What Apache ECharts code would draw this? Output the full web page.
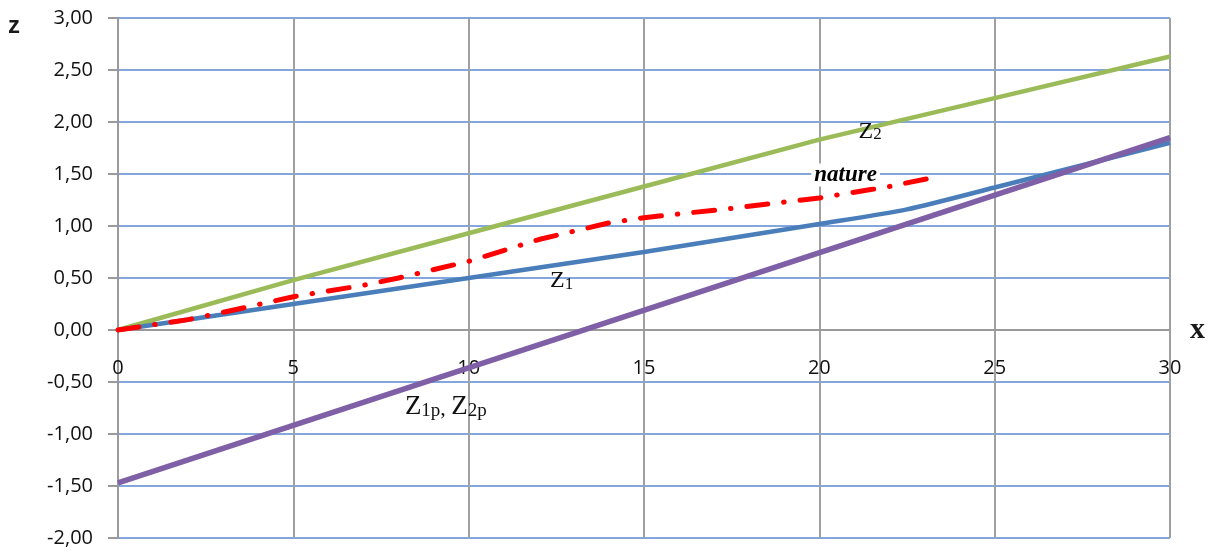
<!DOCTYPE html>
<html>
<head>
<meta charset="utf-8">
<script src="https://cdn.jsdelivr.net/npm/echarts@6/dist/echarts.min.js"></script>
<style>html,body{margin:0;padding:0;background:#fff}#c{width:1208px;height:552px}</style>
</head>
<body>
<div id="c"></div>
<script>
// ---- data ----
const z2X = [0, 5, 10, 15, 20, 25, 30];
const z2Y = [0, 0.48, 0.93, 1.38, 1.83, 2.23, 2.63];
const z1X = [0, 5, 10, 15, 20, 22.5, 25, 30];
const z1Y = [0, 0.25, 0.5, 0.75, 1.02, 1.16, 1.37, 1.80];
const natX = [0, 2, 3, 5, 7, 8, 10, 12, 14, 15, 17.5, 20, 22, 23.3];
const natY = [0, 0.10, 0.17, 0.32, 0.43, 0.50, 0.66, 0.87, 1.03, 1.08, 1.17, 1.27, 1.38, 1.47];
const zpX = [0, 30];
const zpY = [-1.47, 1.85];
const xTicks = [0, 5, 10, 15, 20, 25, 30];
const yTicks = [-2, -1.5, -1, -0.5, 0, 0.5, 1, 1.5, 2, 2.5, 3];
// annotation anchors (data coords)
const labZ2 = [21.45, 1.91];
const labZ1 = [12.65, 0.47];
const labZp = [9.35, -0.74];
const labNat = [20.75, 1.49];

const pairs = (xs, ys) => xs.map((x, i) => [x, ys[i]]);
const serif = 'Liberation Serif';
const sans = 'Open Sans';

const GRID_TOP = 18, GRID_BOTTOM = 14, H = 552;
const yMin = yTicks[0], yMax = yTicks[yTicks.length - 1];
// shift x axis up so it sits at z = 0
const xAxisOffset = -((0 - yMin) / (yMax - yMin)) * (H - GRID_TOP - GRID_BOTTOM);

const chart = echarts.init(document.getElementById('c'), null, {renderer: 'canvas'});

function mp(coord, fmt, rich) {
  return {
    symbol: 'circle', symbolSize: 0, silent: true, animation: false,
    data: [{coord: coord, label: {show: true, position: 'inside', formatter: fmt, rich: rich}}]
  };
}

const option = {
  animation: false,
  backgroundColor: '#ffffff',
  grid: {left: 118, right: 38, top: GRID_TOP, bottom: GRID_BOTTOM, containLabel: false, outerBoundsMode: 'none'},
  xAxis: {
    type: 'value', min: xTicks[0], max: xTicks[xTicks.length - 1], interval: 5,
    position: 'bottom', offset: xAxisOffset,
    axisLine: {show: true, onZero: false, lineStyle: {color: '#9a9a9a', width: 2}},
    axisTick: {show: false},
    axisLabel: {margin: 28, fontSize: 20, color: '#111', fontFamily: sans},
    splitLine: {show: true, lineStyle: {color: '#a0a0a0', width: 2}}
  },
  yAxis: {
    type: 'value', min: yMin, max: yMax, interval: 0.5,
    axisLine: {show: true, onZero: false, lineStyle: {color: '#9a9a9a', width: 2}},
    axisTick: {show: true, length: 10, lineStyle: {color: '#9a9a9a', width: 2}},
    axisLabel: {margin: 25, fontSize: 20, color: '#111', fontFamily: sans,
      formatter: v => v.toFixed(2).replace('.', ',')},
    splitLine: {show: true, lineStyle: {color: '#5a8ad0', width: 1.5}}
  },
  graphic: [
    {type: 'text', left: 8, top: 14, style: {text: 'z', font: 'bold 24px "Liberation Sans"', fill: '#1a1a1a'}},
    {type: 'text', left: 1190, top: 315, style: {text: 'x', font: 'bold 30px "Liberation Serif"', fill: '#1a1a1a'}}
  ],
  series: [
    {
      name: 'Z2', type: 'line', data: pairs(z2X, z2Y), showSymbol: false, z: 2,
      lineStyle: {color: '#9BBB59', width: 4.5}, itemStyle: {color: '#9BBB59'},
      markPoint: mp(labZ2, '{z|Z}{s|2}', {
        z: {fontFamily: serif, fontSize: 24, color: '#111', lineHeight: 24, verticalAlign: 'top'},
        s: {fontFamily: serif, fontSize: 17, color: '#111', lineHeight: 17, padding: [13, 0, 0, 0], verticalAlign: 'bottom'}
      })
    },
    {
      name: 'Z1', type: 'line', data: pairs(z1X, z1Y), showSymbol: false, smooth: 0.25, z: 3,
      lineStyle: {color: '#4A7EBB', width: 4.5}, itemStyle: {color: '#4A7EBB'},
      markPoint: mp(labZ1, '{z|Z}{s|1}', {
        z: {fontFamily: serif, fontSize: 24, color: '#111', lineHeight: 24, verticalAlign: 'top'},
        s: {fontFamily: serif, fontSize: 17, color: '#111', lineHeight: 17, padding: [13, 0, 0, 0], verticalAlign: 'bottom'}
      })
    },
    {
      name: 'nature', type: 'line', data: pairs(natX, natY), showSymbol: false, z: 4,
      lineStyle: {color: '#FF0000', width: 5, type: [21, 16, 0.5, 16], cap: 'round'}, itemStyle: {color: '#FF0000'},
      markPoint: mp(labNat, 'nature', null)
    },
    {
      name: 'Zp', type: 'line', data: pairs(zpX, zpY), showSymbol: false, z: 5,
      lineStyle: {color: '#7F5FA6', width: 5.5}, itemStyle: {color: '#7F5FA6'},
      markPoint: mp(labZp, '{z|Z}{s|1p}{c|, }{z|Z}{s|2p}', {
        z: {fontFamily: serif, fontSize: 27, color: '#111', lineHeight: 27, verticalAlign: 'top'},
        c: {fontFamily: serif, fontSize: 22, color: '#111', lineHeight: 22, padding: [5, 0, 0, 0], verticalAlign: 'top'},
        s: {fontFamily: serif, fontSize: 19, color: '#111', lineHeight: 19, padding: [14, 0, 0, 0], verticalAlign: 'bottom'}
      })
    }
  ]
};
// style nature label
option.series[2].markPoint.data[0].label = {
  show: true, position: 'inside', formatter: 'nature',
  fontFamily: serif, fontStyle: 'italic', fontWeight: 'bold', fontSize: 23, color: '#000',
  backgroundColor: '#fff', padding: [0, 3, 0, 3]
};
chart.setOption(option);
</script>
</body>
</html>
